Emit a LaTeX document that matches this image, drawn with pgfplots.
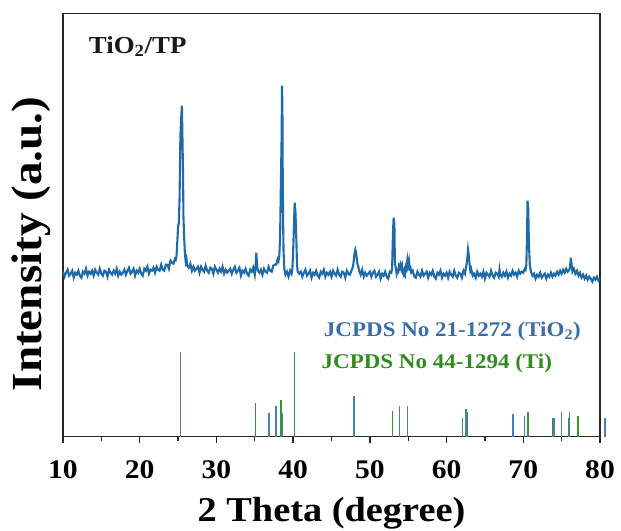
\documentclass[border=0pt]{standalone}
\usepackage{fontspec}
\setmainfont[FakeStretch=1.1]{Liberation Serif}
\usepackage{pgfplots}
\pgfplotsset{compat=1.18}
\definecolor{curveblue}{RGB}{31,106,168}
\definecolor{stickblue}{RGB}{70,128,178}
\definecolor{stickgreen}{RGB}{56,148,48}
\definecolor{txtblue}{RGB}{58,110,168}
\definecolor{txtgreen}{RGB}{48,140,30}
\definecolor{axgray}{RGB}{40,40,40}
\begin{document}
\begin{tikzpicture}
\begin{axis}[
  scale only axis, width=537bp, height=423.4bp,
  xmin=10, xmax=80, ymin=0, ymax=423.4,
  ytick=\empty,
  xtick={10,20,...,80}, minor xtick={15,25,...,75},
  xtick pos=bottom, tick align=outside,
  major tick length=6bp, minor tick length=4bp,
  axis line style={line width=1.3bp, axgray},
  every tick/.style={line width=1.3bp, axgray},
  /pgf/number format/assume math mode=true,
  xticklabel style={font=\fontsize{27}{31}\selectfont\bfseries, yshift=-14bp},
  every axis x label/.style={at={(axis description cs:0.5,0)}, anchor=center, yshift=-77bp, font=\fontsize{35}{40}\selectfont\bfseries},
  every axis y label/.style={at={(axis description cs:-0.0596,0.455)}, anchor=center, rotate=90, font=\fontsize{43}{48}\selectfont\bfseries},
  xlabel={2 Theta (degree)},
  ylabel={Intensity (a.u.)},
  clip=false,
]
\addplot[color=curveblue, line width=2.1bp] coordinates {
(10.0,165)(10.2,160)(10.4,164)(10.6,167)(10.8,161)(11.0,163)(11.2,166)(11.4,159)(11.6,164)(11.8,162)
(12.0,166)(12.2,161)(12.4,159)(12.6,165)(12.8,163)(13.0,168)(13.2,161)(13.4,165)(13.6,163)(13.8,166)
(14.0,161)(14.2,167)(14.4,164)(14.6,162)(14.8,168)(15.0,163)(15.2,161)(15.4,166)(15.6,165)(15.8,160)
(16.0,167)(16.2,164)(16.4,162)(16.6,166)(16.8,163)(17.0,168)(17.2,161)(17.4,165)(17.6,162)(17.8,164)
(18.0,167)(18.2,162)(18.4,166)(18.6,169)(18.8,163)(19.0,165)(19.2,168)(19.4,161)(19.6,166)(19.8,164)
(20.0,168)(20.2,163)(20.4,161)(20.6,168)(20.8,166)(21.0,170)(21.2,163)(21.4,167)(21.6,166)(21.8,169)
(22.0,164)(22.2,170)(22.4,167)(22.6,166)(22.8,172)(23.0,167)(23.2,166)(23.4,172)(23.6,172)(23.8,168)
(24.0,176)(24.2,174)(24.4,173)(24.6,178)(24.7,177)(24.8,181)(24.9,195)(25.0,210)(25.1,214)(25.2,240)
(25.3,300)(25.4,318)(25.5,331)(25.6,285)(25.65,262)(25.7,220)(25.8,198)(25.9,182)(26.0,175)(26.1,178)
(26.2,171)(26.4,169)(26.6,173)(26.8,166)(27.0,170)(27.2,166)(27.4,168)(27.6,170)(27.8,164)(28.0,170)
(28.2,167)(28.4,165)(28.6,171)(28.8,166)(29.0,164)(29.2,169)(29.4,168)(29.6,163)(29.8,170)(30.0,167)
(30.2,164)(30.4,168)(30.6,165)(30.8,170)(31.0,163)(31.2,167)(31.4,164)(31.6,166)(31.8,168)(32.0,163)
(32.2,167)(32.4,170)(32.6,164)(32.8,166)(33.0,169)(33.2,161)(33.4,166)(33.6,164)(33.8,168)(34.0,163)
(34.2,161)(34.4,167)(34.6,165)(34.8,169)(35.0,162)(35.1,170)(35.2,184)(35.3,171)(35.4,166)(35.6,164)
(35.8,167)(36.0,162)(36.2,168)(36.4,165)(36.6,164)(36.8,170)(37.0,166)(37.2,165)(37.4,171)(37.6,172)
(37.8,172)(37.9,176)(38.0,178)(38.1,176)(38.2,181)(38.3,200)(38.4,252)(38.5,300)(38.55,351)(38.6,330)
(38.65,250)(38.7,212)(38.75,185)(38.85,168)(39.0,162)(39.2,165)(39.4,160)(39.6,166)(39.8,163)(39.9,168)
(40.0,185)(40.1,210)(40.2,234)(40.3,225)(40.4,202)(40.5,172)(40.6,165)(40.8,163)(41.0,165)(41.2,160)
(41.4,164)(41.6,167)(41.8,161)(42.0,163)(42.2,166)(42.4,159)(42.6,164)(42.8,162)(43.0,166)(43.2,161)
(43.4,159)(43.6,165)(43.8,163)(44.0,167)(44.2,160)(44.4,164)(44.6,162)(44.8,165)(45.0,160)(45.2,166)
(45.4,163)(45.6,161)(45.8,167)(46.0,162)(46.2,160)(46.4,165)(46.6,164)(46.8,159)(47.0,166)(47.2,163)
(47.4,162)(47.6,166)(47.7,168)(47.8,170)(47.9,176)(48.0,183)(48.1,187)(48.2,184)(48.3,178)(48.4,172)
(48.5,170)(48.6,166)(48.8,162)(49.0,167)(49.2,160)(49.4,164)(49.6,161)(49.8,163)(50.0,165)(50.2,160)
(50.4,164)(50.6,166)(50.8,160)(51.0,162)(51.2,165)(51.4,158)(51.6,163)(51.8,161)(52.0,165)(52.2,160)
(52.4,158)(52.6,165)(52.8,164)(52.9,168)(53.0,200)(53.05,211)(53.1,219)(53.2,212)(53.25,180)(53.3,172)
(53.4,168)(53.5,163)(53.6,166)(53.7,165)(53.8,171)(53.9,169)(54.0,172)(54.1,168)(54.2,171)(54.3,164)
(54.4,162)(54.5,166)(54.6,163)(54.7,170)(54.8,168)(54.9,177)(55.0,172)(55.1,176)(55.2,168)(55.3,169)
(55.4,164)(55.6,166)(55.8,160)(56.0,159)(56.2,165)(56.4,162)(56.6,160)(56.8,166)(57.0,161)(57.2,163)
(57.4,165)(57.6,159)(57.8,164)(58.0,162)(58.2,166)(58.4,160)(58.6,158)(58.8,164)(59.0,162)(59.2,166)
(59.4,159)(59.6,163)(59.8,161)(60.0,164)(60.2,159)(60.4,165)(60.6,162)(60.8,160)(61.0,166)(61.2,161)
(61.4,159)(61.6,164)(61.8,163)(62.0,159)(62.2,166)(62.4,163)(62.5,168)(62.6,172)(62.7,178)(62.8,187)
(62.9,181)(63.0,172)(63.1,166)(63.2,168)(63.4,161)(63.6,163)(63.8,159)(64.0,165)(64.2,161)(64.4,163)
(64.6,160)(64.8,165)(65.0,158)(65.2,164)(65.4,162)(65.6,160)(65.8,166)(66.0,161)(66.2,159)(66.4,164)
(66.6,163)(66.8,160)(66.9,167)(67.0,162)(67.2,160)(67.4,164)(67.6,161)(67.8,165)(68.0,159)(68.2,163)
(68.4,161)(68.6,166)(68.8,162)(69.0,164)(69.2,160)(69.4,166)(69.6,163)(69.8,165)(70.0,164)(70.2,168)
(70.3,167)(70.4,172)(70.5,205)(70.55,236)(70.6,232)(70.65,228)(70.7,205)(70.75,190)(70.85,172)(71.0,165)
(71.2,161)(71.4,163)(71.6,158)(71.8,162)(72.0,160)(72.2,164)(72.4,159)(72.6,161)(72.8,163)(73.0,158)
(73.2,162)(73.4,160)(73.6,164)(73.8,160)(74.0,163)(74.2,161)(74.4,165)(74.6,162)(74.8,166)(75.0,163)
(75.2,167)(75.4,164)(75.6,168)(75.8,165)(76.0,167)(76.1,170)(76.2,179)(76.3,172)(76.4,165)(76.6,168)
(76.8,163)(77.0,166)(77.2,161)(77.4,164)(77.6,159)(77.8,162)(78.0,158)(78.2,161)(78.4,157)(78.6,160)
(78.8,158)(79.0,155)(79.2,159)(79.4,157)(79.6,160)(79.8,156)(80.0,158)
};
% JCPDS 21-1272 (TiO2, anatase)
\addplot[ycomb, color=stickblue, line width=1.3bp, mark=none] coordinates {
(25.3,85)(36.85,24)(37.75,31)(38.6,24)(47.95,40.6)(53.85,30.6)(54.9,30.6)
(62.1,19)(62.55,27.3)(68.65,22.3)(70.15,20.6)(74.0,19)(74.95,24.3)(76.05,24.3)(80.65,19)
};
% JCPDS 44-1294 (Ti)
\addplot[ycomb, color=stickgreen, line width=1.3bp, mark=none] coordinates {
(35.1,34)(38.4,37)(40.15,85)(52.95,25.6)(62.7,24.3)(70.6,24.3)(73.85,19)(75.85,19)(77.15,20.6)
};
\node[anchor=base west, inner sep=0pt, font=\fontsize{24.5}{28}\selectfont\bfseries, text=black!90] at (axis description cs:0.048,0.906) {TiO\textsubscript{2}/TP};
\node[anchor=base west, inner sep=0pt, font=\fontsize{21}{25}\selectfont\bfseries, text=txtblue] at (axis cs:43.99,100) {JCPDS No 21-1272 (TiO\textsubscript{2})};
\node[anchor=base west, inner sep=0pt, font=\fontsize{21}{25}\selectfont\bfseries, text=txtgreen] at (axis cs:43.69,68.5) {JCPDS No 44-1294 (Ti)};
\end{axis}
\pgfresetboundingbox
\path[use as bounding box] ([xshift=-63bp,yshift=-94.3bp]current axis.south west) rectangle ([xshift=21bp,yshift=13.3bp]current axis.north east);
\end{tikzpicture}
\end{document}
